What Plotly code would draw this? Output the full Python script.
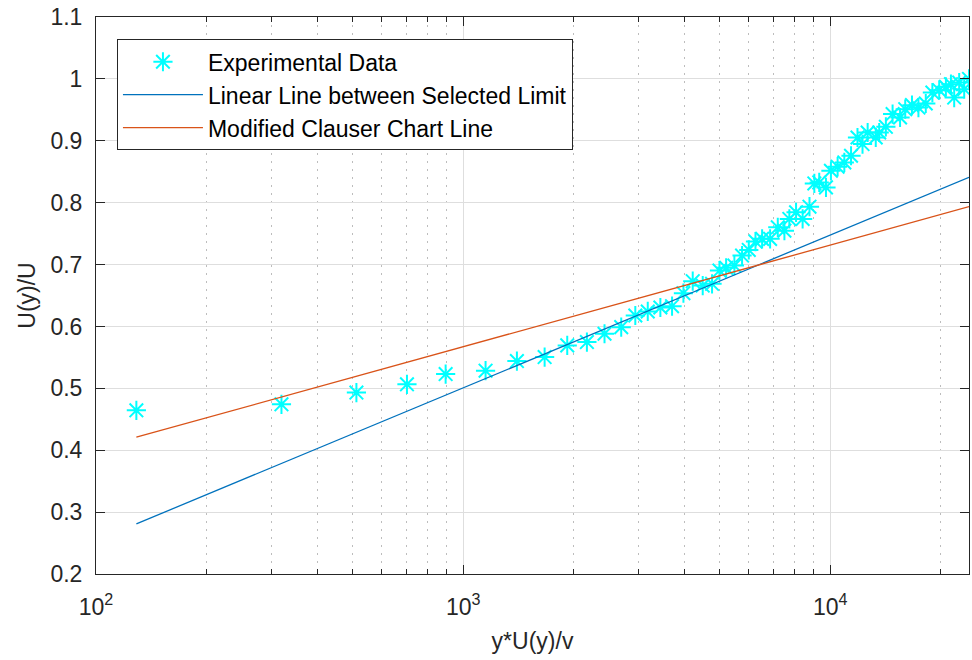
import plotly.graph_objects as go

# Experimental data
exp_x = [128.8, 320, 512, 703, 896, 1151, 1401, 1667, 1921, 2173,
         2427, 2695, 2944, 3183, 3445, 3707, 3981, 4220, 4493, 4764,
         4990, 5203, 5480, 5750, 5998, 6255, 6521, 6856, 7194, 7500,
         7735, 8068, 8407, 8777, 9048, 9330, 9733, 10040, 10470, 10920,
         11390, 11860, 12240, 12640, 13300, 13590, 14170, 14780, 15490, 16000,
         16690, 17380, 18200, 18970, 19800, 20650, 21310, 21750, 22440, 23160,
         23870]
exp_y = [0.4645, 0.4742, 0.4931, 0.5065, 0.5231, 0.5285, 0.544, 0.5505, 0.5694, 0.5747,
         0.5882, 0.5989, 0.6177, 0.6242, 0.6306, 0.6327, 0.6537, 0.6731, 0.6661, 0.6689,
         0.6903, 0.6947, 0.6984, 0.7145, 0.7237, 0.7371, 0.7415, 0.7415, 0.7602, 0.7548,
         0.7737, 0.7844, 0.7737, 0.7935, 0.8311, 0.8327, 0.8247, 0.8516, 0.8581, 0.865,
         0.8758, 0.9053, 0.8947, 0.9134, 0.9053, 0.9134, 0.9226, 0.9431, 0.9376, 0.9511,
         0.9576, 0.9537, 0.9602, 0.9779, 0.9818, 0.9871, 0.9915, 0.9698, 0.994, 0.9834,
         1.0]

# Fitted lines (end points)
line_x = [128.8, 23870]
linear_y = [0.281, 0.841]
clauser_y = [0.421, 0.7935]

# Axis ticks
x_tickvals = [100, 1000, 10000]
x_ticktext = ["10<sup>2</sup>", "10<sup>3</sup>", "10<sup>4</sup>"]
x_minor = [200, 300, 400, 500, 600, 700, 800, 900,
           2000, 3000, 4000, 5000, 6000, 7000, 8000, 9000, 20000]

FONT = "Liberation Sans, Arial, Helvetica, sans-serif"
AX = "#262626"

fig = go.Figure()
fig.add_trace(go.Scatter(
    x=exp_x, y=exp_y, mode="markers", name="Experimental Data",
    marker=dict(symbol="asterisk-open", size=16, color="#00ffff",
                line=dict(color="#00ffff", width=2)),
))
fig.add_trace(go.Scatter(
    x=line_x, y=linear_y, mode="lines", name="Linear Line between Selected Limit",
    line=dict(color="#0072bd", width=1.3),
))
fig.add_trace(go.Scatter(
    x=line_x, y=clauser_y, mode="lines", name="Modified Clauser Chart Line",
    line=dict(color="#d95319", width=1.3),
))

fig.update_layout(
    width=972, height=660,
    margin=dict(l=96, r=3, t=17, b=86, autoexpand=False),
    paper_bgcolor="white", plot_bgcolor="white",
    font=dict(family=FONT, size=23, color=AX),
    showlegend=True,
    legend=dict(
        x=0.024, y=0.96, xanchor="left", yanchor="top",
        bgcolor="white", bordercolor=AX, borderwidth=1,
        font=dict(family=FONT, size=23, color="#000000"),
        itemwidth=80, tracegroupgap=0,
    ),
)

fig.update_xaxes(
    type="log", range=[2, 4.3778], automargin=False,
    tickmode="array", tickvals=x_tickvals, ticktext=x_ticktext,
    ticks="inside", ticklen=9, tickcolor=AX, tickwidth=1,
    showline=True, linecolor=AX, linewidth=1, mirror="allticks",
    showgrid=True, gridcolor="#dedede", gridwidth=1,
    zeroline=False, ticklabelstandoff=12,
    tickfont=dict(family=FONT, size=23, color=AX),
    title=dict(text="y*U(y)/v", font=dict(family=FONT, size=23, color=AX), standoff=14),
    minor=dict(tickvals=x_minor, ticks="inside", ticklen=5, tickcolor=AX,
               showgrid=True, gridcolor="#bdbdbd", griddash="2px,6px", gridwidth=1),
)
fig.update_yaxes(
    range=[0.2, 1.1], tick0=0.2, dtick=0.1, automargin=False,
    ticks="inside", ticklen=9, tickcolor=AX, tickwidth=1,
    showline=True, linecolor=AX, linewidth=1, mirror="allticks",
    showgrid=True, gridcolor="#dedede", gridwidth=1,
    zeroline=False, ticklabelstandoff=8,
    tickfont=dict(family=FONT, size=23, color=AX),
    title=dict(text="U(y)/U", font=dict(family=FONT, size=23, color=AX), standoff=8),
)

fig.write_html(
    "out.html",
    config={"displayModeBar": False},
    post_script="document.body.style.margin='0';document.body.style.overflow='hidden';",
)
